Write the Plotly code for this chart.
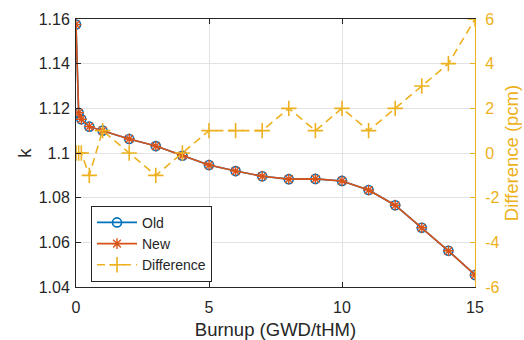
import plotly.graph_objects as go

burnup = [0, 0.1, 0.2, 0.5, 1, 2, 3, 4, 5, 6, 7, 8, 9, 10, 11, 12, 13, 14, 15]
k_old = [1.1575, 1.1180, 1.1151, 1.1118, 1.1100, 1.1063, 1.1031, 1.0988, 1.0946, 1.0919,
         1.0896, 1.0883, 1.0884, 1.0875, 1.0834, 1.0766, 1.0665, 1.0562, 1.0454]
k_new = [1.1575, 1.1180, 1.1151, 1.1118, 1.1100, 1.1063, 1.1031, 1.0988, 1.0946, 1.0919,
         1.0896, 1.0883, 1.0884, 1.0875, 1.0834, 1.0766, 1.0665, 1.0562, 1.0454]
diff_pcm = [0, 0, 0, -1, 1, 0, -1, 0, 1, 1, 1, 2, 1, 2, 1, 2, 3, 4, 6]

x_ticks = [0, 5, 10, 15]
k_ticks = [1.04, 1.06, 1.08, 1.10, 1.12, 1.14, 1.16]
k_tick_text = ["1.04", "1.06", "1.08", "1.1", "1.12", "1.14", "1.16"]
d_ticks = [-6, -4, -2, 0, 2, 4, 6]
d_tick_text = ["-6", "-4", "-2", "0", "2", "4", "6"]

BLUE = "#0072BD"
ORANGE = "#D95319"
YELLOW = "#EDB120"
TXT = "#262626"
GRID = "#E3E3E3"
FONT = "Liberation Sans, Arial, sans-serif"

fig = go.Figure()
fig.add_trace(go.Scatter(
    x=burnup, y=k_old, name="Old", mode="lines+markers",
    line=dict(color=BLUE, width=1.6),
    marker=dict(symbol="circle-open", size=9, color=BLUE, line=dict(color=BLUE, width=1.6)),
))
fig.add_trace(go.Scatter(
    x=burnup, y=k_new, name="New", mode="lines+markers",
    line=dict(color=ORANGE, width=1.6),
    marker=dict(symbol="asterisk-open", size=9, color=ORANGE, line=dict(color=ORANGE, width=1.4)),
))
fig.add_trace(go.Scatter(
    x=burnup, y=diff_pcm, name="Difference", mode="lines+markers", yaxis="y2",
    line=dict(color=YELLOW, width=1.6, dash="8px,5px"),
    marker=dict(symbol="cross-thin-open", size=11, color=YELLOW, line=dict(color=YELLOW, width=1.6)),
))

fig.update_layout(
    width=524, height=340,
    margin=dict(l=76, r=49, t=19, b=53),
    paper_bgcolor="white", plot_bgcolor="white",
    font=dict(family=FONT, size=16, color=TXT),
    showlegend=True,
    legend=dict(
        x=0.0376, y=0.303, xanchor="left", yanchor="top",
        bgcolor="white", bordercolor="#262626", borderwidth=1,
        font=dict(size=14, color=TXT, family=FONT),
        tracegroupgap=0, itemwidth=40,
    ),
    xaxis=dict(
        range=[0, 15], tickvals=x_ticks, ticks="inside", ticklen=5, tickcolor=TXT,
        showline=True, linecolor=TXT, linewidth=1, mirror="ticks",
        showgrid=True, gridcolor=GRID, gridwidth=1, zeroline=False,
        tickfont=dict(size=16, color=TXT), ticklabelstandoff=6, automargin=False,
        title=dict(text="Burnup (GWD/tHM)", font=dict(size=18.5, color=TXT), standoff=14),
    ),
    yaxis=dict(
        range=[1.04, 1.16], tickvals=k_ticks, ticktext=k_tick_text,
        ticks="inside", ticklen=5, tickcolor=TXT,
        showline=True, linecolor=TXT, linewidth=1, mirror=False,
        showgrid=True, gridcolor=GRID, gridwidth=1, zeroline=False,
        tickfont=dict(size=16, color=TXT), ticklabelstandoff=2, automargin=False,
        title=dict(text="k", font=dict(size=18.5, color=TXT), standoff=2),
    ),
    yaxis2=dict(
        range=[-6, 6], tickvals=d_ticks, ticktext=d_tick_text, overlaying="y", side="right",
        ticks="inside", ticklen=5, tickcolor=YELLOW,
        showline=True, linecolor=YELLOW, linewidth=1,
        showgrid=False, zeroline=False, automargin=False,
        tickfont=dict(size=16, color=YELLOW), ticklabelstandoff=6,
        title=dict(text="Difference (pcm)", font=dict(size=18.5, color=YELLOW), standoff=6),
    ),
)

fig.write_html("out.html")
